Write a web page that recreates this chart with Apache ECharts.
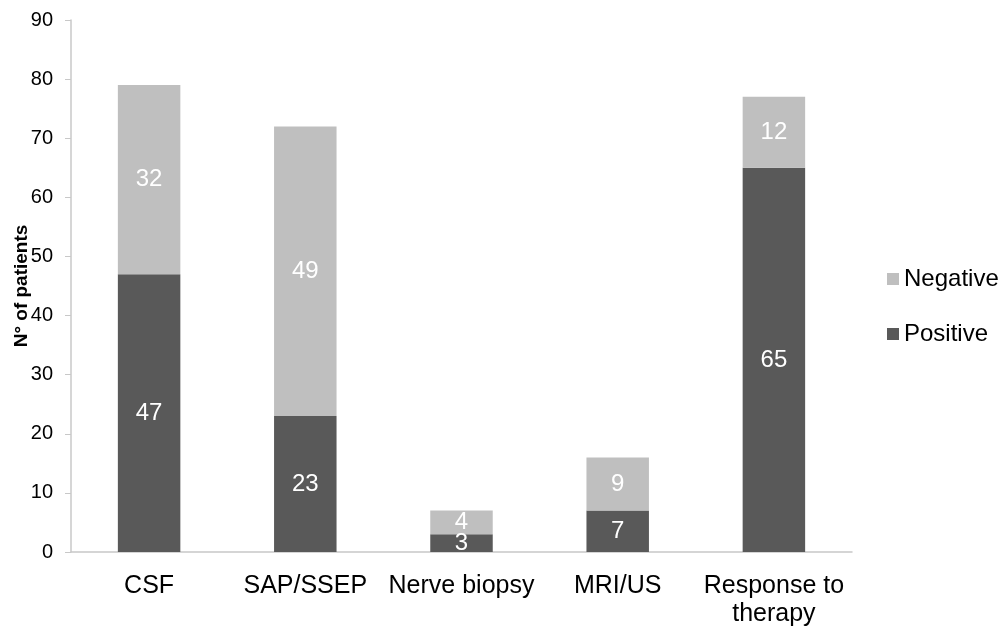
<!DOCTYPE html>
<html><head><meta charset="utf-8">
<script src="https://cdn.jsdelivr.net/npm/echarts@6/dist/echarts.min.js"></script>
<style>html,body{margin:0;padding:0;background:#fff}#c{width:1003px;height:635px}</style>
</head><body><div id="c"></div>
<script>
var categories = ['CSF', 'SAP/SSEP', 'Nerve biopsy', 'MRI/US', 'Response to\ntherapy'];
var positive = [47, 23, 3, 7, 65];
var negative = [32, 49, 4, 9, 12];
var yTicks = {min: 0, max: 90, interval: 10};

var chart = echarts.init(document.getElementById('c'));
var labelStyle = {show: true, position: 'inside', color: '#ffffff', fontSize: 24, fontFamily: 'Liberation Sans'};
chart.setOption({
  animation: false,
  grid: {left: 71, right: 151, top: 20, bottom: 83, containLabel: false, outerBoundsMode: 'none'},
  legend: {
    orient: 'vertical', left: 882, top: 262, itemGap: 31,
    itemWidth: 12, itemHeight: 12, icon: 'rect',
    textStyle: {fontSize: 24, fontFamily: 'Liberation Sans', color: '#000'},
    data: ['Negative', 'Positive']
  },
  xAxis: {
    type: 'category', data: categories,
    axisLine: {lineStyle: {color: '#c8c8c8', width: 1.5}},
    axisTick: {show: false},
    axisLabel: {fontSize: 25, fontFamily: 'Liberation Sans', color: '#000', margin: 20, lineHeight: 28, interval: 0}
  },
  yAxis: {
    type: 'value', min: yTicks.min, max: yTicks.max, interval: yTicks.interval,
    name: 'N° of patients', nameLocation: 'middle', nameGap: 40, nameMoveOverlap: false,
    nameTextStyle: {fontSize: 19, fontWeight: 'bold', fontFamily: 'Liberation Sans', color: '#000'},
    axisLine: {show: true, lineStyle: {color: '#c8c8c8', width: 1.5}},
    axisTick: {show: true, length: 6, lineStyle: {color: '#c8c8c8'}},
    splitLine: {show: false},
    axisLabel: {fontSize: 20, fontFamily: 'Liberation Sans', color: '#000', margin: 18}
  },
  series: [
    {name: 'Positive', type: 'bar', stack: 's', data: positive, barWidth: '40%',
     itemStyle: {color: '#595959'}, label: labelStyle},
    {name: 'Negative', type: 'bar', stack: 's', data: negative, barWidth: '40%',
     itemStyle: {color: '#bfbfbf'}, label: labelStyle}
  ]
});
</script></body></html>
